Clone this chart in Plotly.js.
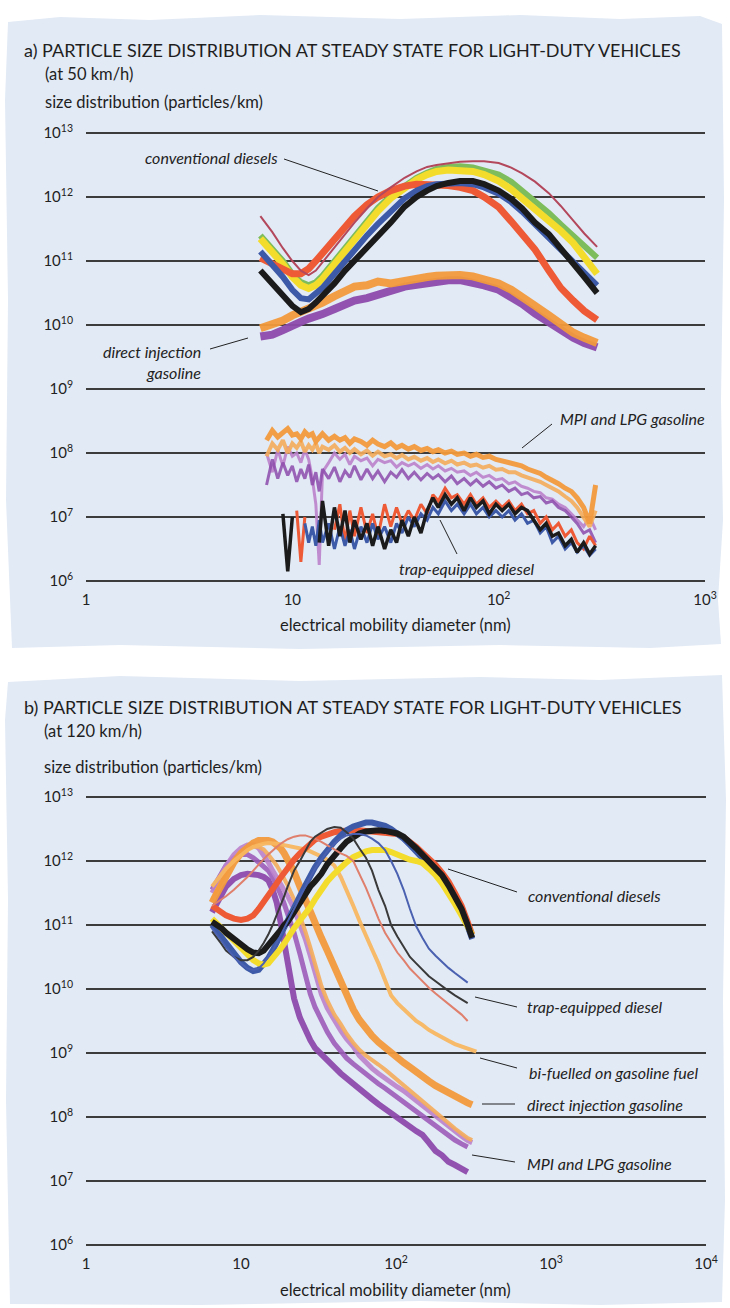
<!DOCTYPE html>
<html>
<head>
<meta charset="utf-8">
<script src="https://cdn.plot.ly/plotly-3.0.1.min.js"></script>
<style>
  html, body { margin:0; padding:0; background:#ffffff; }
  body { width:730px; height:1308px; overflow:hidden; position:relative; }
  .panel { position:absolute; left:0; top:0; width:730px; height:1308px; background:#e2eaf5; }
  #pa { clip-path: polygon(8px 22px, 60px 17px, 150px 20px, 260px 15px, 400px 19px, 520px 15px, 620px 19px, 700px 16px, 722px 24px, 724px 200px, 721px 400px, 723px 520px, 718px 600px, 721px 644px, 650px 648px, 500px 645px, 300px 649px, 120px 645px, 12px 648px, 6px 500px, 8px 300px, 5px 100px); }
  #pb { clip-path: polygon(8px 682px, 120px 676px, 300px 681px, 480px 677px, 600px 680px, 722px 675px, 726px 800px, 723px 1000px, 725px 1200px, 722px 1302px, 600px 1305px, 420px 1301px, 200px 1305px, 10px 1304px, 6px 1100px, 8px 900px, 5px 720px); }
  #chart { position:absolute; left:0; top:0; width:730px; height:1308px; }
</style>
</head>
<body>
<div class="panel" id="pa"></div>
<div class="panel" id="pb"></div>
<div id="chart"></div>
<script>
// ---------- Panel a (50 km/h): diameters in nm, values are log10(particles/km) ----------
const dA = [7,8,9,10,11,12,13,14,16,18,20,23,26,30,35,40,45,50,57,65,75,85,100,115,130,150,175,200,230,260,300];
const aConvBlack   = [10.85,10.65,10.45,10.3,10.2,10.25,10.35,10.45,10.65,10.85,11.0,11.2,11.4,11.6,11.85,12.0,12.1,12.17,12.22,12.25,12.25,12.2,12.1,11.97,11.82,11.6,11.42,11.2,10.98,10.75,10.5];
const aConvBlue    = [11.15,10.95,10.75,10.55,10.42,10.4,10.48,10.58,10.8,11.0,11.17,11.4,11.58,11.78,11.98,12.1,12.17,12.2,12.22,12.22,12.2,12.15,12.05,11.92,11.77,11.57,11.37,11.17,10.97,10.8,10.62];
const aConvRed     = [11.05,10.95,10.85,10.8,10.8,10.88,11.0,11.12,11.35,11.55,11.7,11.88,12.0,12.1,12.17,12.2,12.2,12.2,12.18,12.15,12.1,12.0,11.84,11.62,11.42,11.18,10.85,10.58,10.38,10.22,10.08];
const aConvYellow  = [11.35,11.15,10.95,10.75,10.62,10.57,10.62,10.72,10.95,11.17,11.35,11.58,11.78,11.98,12.15,12.27,12.35,12.4,12.42,12.42,12.4,12.35,12.25,12.12,11.98,11.82,11.65,11.47,11.28,11.05,10.8];
const aConvGreen   = [11.4,11.2,11.0,10.8,10.67,10.62,10.67,10.77,11.0,11.22,11.4,11.63,11.83,12.02,12.18,12.3,12.38,12.44,12.47,12.48,12.46,12.42,12.35,12.24,12.1,11.93,11.75,11.57,11.4,11.22,11.05];
const aConvDarkRed = [11.7,11.45,11.2,11.0,10.85,10.78,10.85,10.98,11.2,11.42,11.6,11.82,12.0,12.15,12.3,12.4,12.47,12.5,12.53,12.55,12.56,12.56,12.53,12.46,12.37,12.24,12.06,11.86,11.63,11.43,11.22];
const aDIOrange    = [9.95,10.0,10.07,10.15,10.2,10.25,10.3,10.35,10.45,10.52,10.6,10.62,10.68,10.65,10.7,10.72,10.75,10.77,10.78,10.78,10.76,10.72,10.65,10.55,10.45,10.3,10.15,10.0,9.88,9.8,9.72];
const aDIPurple    = [9.82,9.85,9.92,10.0,10.05,10.1,10.13,10.17,10.25,10.32,10.38,10.42,10.48,10.55,10.6,10.63,10.66,10.68,10.7,10.7,10.67,10.62,10.55,10.45,10.33,10.18,10.03,9.9,9.8,9.72,9.65];

const dAlow = [7.5,8,8.5,9,9.5,10,10.5,11,11.5,12,12.5,13,13.5,14,15,16,17,18,19,20,21.5,23,24.5,26,28,30,32,34,36.5,39,42,45,48,51,55,59,63,68,73,78,84,90,97,104,112,120,129,138,148,159,170,182,195,210,225,240,258,276,295];
const aMPIOrange  = [8.2,8.35,8.25,8.32,8.38,8.28,8.3,8.22,8.33,8.27,8.3,8.18,8.25,8.3,8.2,8.26,8.2,8.24,8.15,8.22,8.18,8.12,8.2,8.14,8.1,8.16,8.08,8.12,8.06,8.1,8.04,8.07,8.02,8.05,8.0,8.03,7.98,8.0,7.95,7.98,7.93,7.95,7.9,7.88,7.85,7.82,7.8,7.75,7.72,7.68,7.62,7.58,7.52,7.45,7.4,7.3,7.15,6.9,7.5];
const aMPIOrange2 = [7.95,8.15,8.05,8.2,8.0,8.15,8.08,8.18,8.02,8.12,8.05,8.15,8.0,8.1,8.05,8.12,8.02,8.08,8.0,8.06,7.98,8.04,7.96,8.02,7.95,7.98,7.92,7.97,7.9,7.94,7.88,7.92,7.86,7.9,7.84,7.88,7.82,7.85,7.8,7.82,7.77,7.8,7.74,7.75,7.7,7.7,7.65,7.62,7.58,7.55,7.5,7.45,7.4,7.32,7.25,7.15,7.0,6.85,7.1];
const aMPIPurple  = [7.5,7.9,7.6,7.85,7.65,7.8,7.55,7.75,7.6,7.82,7.5,7.7,7.4,7.75,7.6,7.78,7.55,7.72,7.62,7.8,7.58,7.75,7.6,7.72,7.55,7.7,7.62,7.74,7.6,7.7,7.58,7.68,7.6,7.66,7.55,7.64,7.52,7.6,7.5,7.58,7.48,7.55,7.45,7.5,7.4,7.45,7.35,7.38,7.3,7.32,7.22,7.25,7.15,7.1,7.0,6.9,6.75,6.8,6.6];
const aMPIMauve   = [8.0,7.7,8.05,7.8,8.1,7.95,8.0,7.85,8.05,7.9,7.6,7.2,6.25,7.7,7.85,8.0,7.9,7.98,7.82,7.95,7.88,7.92,7.8,7.9,7.85,7.88,7.78,7.85,7.8,7.84,7.76,7.82,7.75,7.8,7.72,7.76,7.7,7.72,7.65,7.7,7.62,7.65,7.58,7.6,7.52,7.55,7.48,7.45,7.4,7.38,7.3,7.28,7.2,7.15,7.05,6.95,6.85,7.0,6.8];
const aTrapBlack  = [null,null,null,7.05,6.15,7.0,null,null,null,null,null,null,6.6,7.25,6.55,7.15,6.7,7.1,6.6,6.95,6.65,6.9,6.55,6.85,6.5,6.8,6.6,6.95,6.7,7.0,6.75,7.1,7.3,7.15,7.35,7.2,7.3,7.1,7.3,7.15,7.25,7.05,7.2,7.1,7.2,7.05,7.15,7.1,6.95,6.8,6.9,6.7,6.75,6.55,6.65,6.45,6.6,6.42,6.55];
const aTrapRed    = [null,null,null,null,null,null,7.1,6.3,7.0,null,null,null,null,null,null,6.8,7.2,6.6,7.1,6.7,7.15,6.75,7.05,6.7,7.2,6.85,7.15,6.9,7.1,6.95,7.2,7.05,7.35,7.25,7.45,7.3,7.35,7.2,7.35,7.2,7.3,7.15,7.25,7.15,7.25,7.1,7.2,7.05,7.1,6.9,7.0,6.8,6.9,6.7,6.8,6.6,6.5,6.7,6.55];
const aTrapBlue   = [null,null,null,null,null,null,null,null,6.9,6.6,6.85,6.55,6.95,6.6,6.9,6.5,6.85,6.55,6.8,6.5,6.85,6.6,6.9,6.65,6.85,6.6,6.9,6.75,7.0,6.85,7.05,6.95,7.15,7.05,7.25,7.1,7.2,7.05,7.2,7.05,7.15,7.0,7.1,7.0,7.1,6.95,7.05,6.9,6.95,6.75,6.85,6.6,6.7,6.5,6.6,6.45,6.55,6.4,6.5];

// ---------- Panel b (120 km/h) ----------
const dB = [6.5,7,7.5,8,9,10,11,12,13,14,15,16,17,18,19,20,22,24,26,28,30,33,36,40,44,48,53,58,64,70,77,85,93,102,112,123,135,148,163,180,198,218,240,265,290,310,330];
const bConvBlack  = [11.05,11.0,10.95,10.88,10.78,10.7,10.62,10.57,10.56,10.6,10.68,10.76,10.84,10.92,11.0,11.05,11.2,11.35,11.5,11.6,11.68,11.8,11.95,12.1,12.2,12.3,12.38,12.43,12.46,12.48,12.48,12.47,12.46,12.43,12.38,12.3,12.2,12.1,12.0,11.9,11.78,11.62,11.45,11.25,11.0,10.8,null];
const bConvBlue   = [11.0,10.9,10.8,10.7,10.55,10.42,10.33,10.28,10.3,10.38,10.48,10.6,10.72,10.84,10.95,11.05,11.25,11.45,11.62,11.77,11.9,12.05,12.18,12.3,12.4,12.48,12.54,12.58,12.6,12.6,12.58,12.55,12.5,12.43,12.35,12.25,12.15,12.05,11.95,11.85,11.72,11.58,11.4,11.2,10.98,10.78,null];
const bConvRed    = [11.3,11.25,11.2,11.15,11.1,11.08,11.1,11.15,11.25,11.35,11.45,11.55,11.65,11.74,11.82,11.9,12.02,12.12,12.2,12.27,12.33,12.38,12.42,12.45,12.47,12.48,12.48,12.48,12.47,12.46,12.45,12.44,12.43,12.42,12.37,12.3,12.22,12.13,12.04,11.94,11.82,11.68,11.5,11.3,11.05,10.85,null];
const bConvYellow = [11.1,11.02,10.95,10.88,10.75,10.63,10.53,10.45,10.4,10.38,10.4,10.47,10.55,10.63,10.71,10.8,10.95,11.07,11.17,11.28,11.4,11.57,11.68,11.8,11.9,11.98,12.06,12.11,12.15,12.17,12.18,12.17,12.14,12.1,12.05,12.02,12.0,11.97,11.88,11.78,11.65,11.5,11.33,11.15,10.98,10.85,null];
const bTrapBlack  = [10.9,10.8,10.7,10.6,10.5,10.45,10.45,10.5,10.6,10.72,10.85,11.0,11.15,11.3,11.45,11.6,11.85,12.0,12.15,12.3,12.38,12.45,12.5,12.53,12.52,12.45,12.35,12.2,12.05,11.85,11.55,11.3,11.0,10.82,10.65,10.5,10.4,10.3,10.2,10.12,10.04,9.97,9.9,9.83,9.78,null,null];
const bTrapBlue   = [10.95,10.85,10.75,10.65,10.5,10.4,10.32,10.3,10.32,10.4,10.5,10.6,10.72,10.84,10.95,11.05,11.25,11.45,11.6,11.75,11.88,12.02,12.15,12.27,12.35,12.4,12.42,12.42,12.4,12.35,12.28,12.17,12.0,11.8,11.55,11.25,10.98,10.8,10.63,10.52,10.42,10.33,10.25,10.17,10.1,null,null];
const bTrapPink   = [11.3,11.35,11.4,11.45,11.55,11.65,11.75,11.85,11.95,12.03,12.1,12.17,12.22,12.27,12.31,12.34,12.38,12.4,12.4,12.38,12.35,12.3,12.25,12.18,12.12,12.08,12.0,11.8,11.58,11.35,11.1,10.88,10.72,10.57,10.45,10.32,10.22,10.12,10.02,9.93,9.85,9.77,9.68,9.6,9.5,null,null];
const bBiFuel     = [11.6,11.7,11.8,11.88,12.0,12.1,12.17,12.22,12.25,12.27,12.28,12.28,12.27,12.26,12.25,12.24,12.22,12.2,12.18,12.15,12.12,12.07,12.02,11.93,11.75,11.55,11.3,11.07,10.85,10.62,10.4,10.12,9.9,9.78,9.68,9.58,9.5,9.44,9.36,9.3,9.24,9.19,9.14,9.1,9.06,9.04,9.02];
const bDIOrange   = [11.35,11.5,11.65,11.78,11.98,12.12,12.22,12.28,12.32,12.33,12.32,12.3,12.26,12.2,12.12,12.03,11.83,11.6,11.38,11.18,11.02,10.8,10.6,10.35,10.1,9.88,9.68,9.52,9.38,9.27,9.17,9.08,9.0,8.93,8.85,8.78,8.7,8.63,8.56,8.49,8.43,8.37,8.31,8.26,8.22,8.19,null];
const bPink       = [11.5,11.65,11.8,11.92,12.1,12.2,12.25,12.25,12.2,12.1,11.98,11.85,11.75,11.65,11.55,11.45,11.25,11.02,10.78,10.52,10.25,9.92,9.7,9.5,9.35,9.22,9.1,8.96,8.85,8.76,8.68,8.6,8.54,8.47,8.41,8.33,8.26,8.18,8.1,8.02,7.94,7.85,7.77,7.7,7.63,7.6,null];
const bOrange2    = [11.4,11.55,11.7,11.82,12.0,12.12,12.2,12.23,12.22,12.18,12.1,12.02,11.93,11.83,11.73,11.62,11.4,11.15,10.9,10.65,10.4,10.05,9.82,9.6,9.45,9.3,9.16,9.05,8.96,8.9,8.82,8.74,8.66,8.58,8.5,8.42,8.33,8.25,8.15,8.07,7.98,7.9,7.82,7.74,7.67,7.64,null];
const bPurpleMid  = [11.55,11.7,11.83,11.93,12.05,12.1,12.1,12.05,11.98,11.92,11.85,11.75,11.62,11.48,11.33,11.18,10.88,10.55,10.2,9.92,9.72,9.5,9.33,9.15,9.02,8.92,8.83,8.75,8.67,8.6,8.52,8.45,8.38,8.3,8.22,8.15,8.07,8.0,7.92,7.85,7.78,7.7,7.64,7.58,7.53,null,null];
const bPurpleDark = [11.2,11.35,11.5,11.6,11.72,11.78,11.8,11.8,11.78,11.75,11.7,11.55,11.35,11.05,10.7,10.35,9.85,9.55,9.35,9.2,9.08,8.97,8.88,8.78,8.68,8.6,8.52,8.44,8.36,8.28,8.2,8.12,8.05,7.98,7.92,7.85,7.78,7.72,7.6,7.47,7.4,7.3,7.25,7.18,7.14,null,null];

// tick labels
const yTickExp = [6,7,8,9,10,11,12,13];
const xTickA = ['1','10','10<sup>2</sup>','10<sup>3</sup>'];
const xTickB = ['1','10','10<sup>2</sup>','10<sup>3</sup>','10<sup>4</sup>'];

// ---------- helpers ----------
const W = 730, H = 1308;
const px = x => x / W;
const py = y => 1 - y / H;
const pow = arr => arr.map(v => v === null ? null : Math.pow(10, v));

function tr(x, yexp, color, width, axis, opacity) {
  return {
    x: x, y: pow(yexp), type: 'scatter', mode: 'lines',
    line: { color: color, width: width, shape: 'linear' },
    opacity: opacity === undefined ? 1 : opacity,
    connectgaps: false, hoverinfo: 'skip',
    xaxis: axis === 2 ? 'x2' : 'x', yaxis: axis === 2 ? 'y2' : 'y'
  };
}

const C = {
  black: '#1b1b1b', blue: '#3d5aa8', red: '#ee5a35', yellow: '#f4dc2c', green: '#7dbd5c',
  darkred: '#b3485c', orange: '#f29a3c', orange2: '#f5ac5a', purple: '#8c4bab', mauve: '#bc82cc',
  pink: '#df7f6c', light: '#f7b760'
};

const traces = [
  // panel a, upper group
  tr(dA, aDIPurple, C.purple, 8, 1, 0.95),
  tr(dA, aDIOrange, C.orange, 8, 1, 0.95),
  tr(dA, aConvGreen, C.green, 6, 1),
  tr(dA, aConvYellow, C.yellow, 7, 1),
  tr(dA, aConvRed, C.red, 7, 1),
  tr(dA, aConvBlue, C.blue, 6, 1),
  tr(dA, aConvBlack, C.black, 6, 1),
  tr(dA, aConvDarkRed, C.darkred, 2, 1),
  // panel a, lower group
  tr(dAlow, aMPIMauve, C.mauve, 3, 1, 0.9),
  tr(dAlow, aMPIPurple, C.purple, 3, 1, 0.85),
  tr(dAlow, aMPIOrange2, C.orange2, 4, 1, 0.9),
  tr(dAlow, aMPIOrange, C.orange, 5, 1, 0.95),
  tr(dAlow, aTrapRed, C.red, 3, 1),
  tr(dAlow, aTrapBlue, C.blue, 3, 1),
  tr(dAlow, aTrapBlack, C.black, 3.5, 1),
  // panel b
  tr(dB, bPurpleDark, C.purple, 6, 2, 0.95),
  tr(dB, bPurpleMid, '#9c5cba', 5, 2, 0.9),
  tr(dB, bPink, C.mauve, 5, 2, 0.9),
  tr(dB, bOrange2, C.orange2, 4, 2, 0.9),
  tr(dB, bDIOrange, C.orange, 7, 2, 0.95),
  tr(dB, bBiFuel, C.light, 4, 2, 0.95),
  tr(dB, bConvRed, C.red, 6, 2),
  tr(dB, bConvBlue, C.blue, 6, 2),
  tr(dB, bConvYellow, C.yellow, 6, 2),
  tr(dB, bConvBlack, C.black, 6, 2),
  tr(dB, bTrapPink, C.pink, 2, 2),
  tr(dB, bTrapBlack, '#3a3a3a', 2, 2),
  tr(dB, bTrapBlue, '#4a60b0', 2, 2)
];

const yTickVals = yTickExp.map(e => Math.pow(10, e));
const yTickText = yTickExp.map(e => '10<sup>' + e + '</sup>');

const tickFont = { family: 'Lato, sans-serif', size: 15, color: '#222' };
const PAD = 0.05; // decades of padding above/below the 10^6..10^13 span so edge grid lines are drawn
function yaxisDef(topPx, anchor) {
  // 64 px per decade, 10^13 at topPx
  const top = topPx - PAD * 64, bottom = topPx + 448 + PAD * 64;
  return {
    type: 'log', range: [6 - PAD, 13 + PAD], domain: [py(bottom), py(top)], anchor: anchor,
    tickvals: yTickVals, ticktext: yTickText, tickfont: tickFont,
    showgrid: true, gridcolor: '#3c3c3c', gridwidth: 1.6, zeroline: false, showline: false,
    ticks: 'outside', ticklen: 9, tickcolor: 'rgba(0,0,0,0)', fixedrange: true
  };
}
function xaxisDef(range, left, right, vals, text, anchor) {
  return {
    type: 'log', range: range, domain: [px(left), px(right)], anchor: anchor,
    tickvals: vals, ticktext: text, tickfont: tickFont,
    showgrid: false, zeroline: false, showline: false,
    ticks: 'outside', ticklen: 2, tickcolor: 'rgba(0,0,0,0)', fixedrange: true
  };
}

const titleFont = { family: 'Lato, sans-serif', size: 16.5, color: '#1e1e1e' };
const capsFont = { family: 'Lato, sans-serif', size: 18, color: '#1e1e1e' };
const itFont = { family: 'Lato, sans-serif', size: 16, color: '#222', style: 'italic' };
function ann(text, x, y, xanchor, font) {
  return { text: text, x: px(x), y: py(y), xref: 'paper', yref: 'paper',
           xanchor: xanchor, yanchor: 'middle', showarrow: false, font: font };
}
function lead(x0, y0, x1, y1) {
  return { type: 'line', xref: 'paper', yref: 'paper', x0: px(x0), y0: py(y0), x1: px(x1), y1: py(y1),
           line: { color: '#222', width: 1 } };
}

const layout = {
  width: W, height: H, margin: { l: 0, r: 0, t: 0, b: 0 },
  paper_bgcolor: 'rgba(0,0,0,0)', plot_bgcolor: 'rgba(0,0,0,0)',
  showlegend: false, font: { family: 'Lato, sans-serif', color: '#222' },
  xaxis: xaxisDef([0, 3], 86, 705, [1, 10, 100, 1000], xTickA, 'y'),
  yaxis: yaxisDef(133, 'x'),
  xaxis2: xaxisDef([0, 4], 86, 706, [1, 10, 100, 1000, 10000], xTickB, 'y2'),
  yaxis2: yaxisDef(797, 'x2'),
  annotations: [
    ann('a) PARTICLE SIZE DISTRIBUTION AT STEADY STATE FOR LIGHT-DUTY VEHICLES', 22, 50, 'left', capsFont),
    ann('(at 50 km/h)', 43, 74, 'left', titleFont),
    ann('size distribution (particles/km)', 43, 102, 'left', titleFont),
    ann('electrical mobility diameter (nm)', 395, 625, 'center', titleFont),
    ann('conventional diesels', 280, 157, 'right', itFont),
    ann('direct injection', 203, 352, 'right', itFont),
    ann('gasoline', 203, 372, 'right', itFont),
    ann('MPI and LPG gasoline', 558, 418, 'left', itFont),
    ann('trap-equipped diesel', 397, 568, 'left', itFont),

    ann('b) PARTICLE SIZE DISTRIBUTION AT STEADY STATE FOR LIGHT-DUTY VEHICLES', 22, 707, 'left', capsFont),
    ann('(at 120 km/h)', 42, 731, 'left', titleFont),
    ann('size distribution (particles/km)', 42, 767, 'left', titleFont),
    ann('electrical mobility diameter (nm)', 395, 1290, 'center', titleFont),
    ann('conventional diesels', 526, 895, 'left', itFont),
    ann('trap-equipped diesel', 525, 1007, 'left', itFont),
    ann('bi-fuelled on gasoline fuel', 527, 1072, 'left', itFont),
    ann('direct injection gasoline', 525, 1104, 'left', itFont),
    ann('MPI and LPG gasoline', 525, 1163, 'left', itFont)
  ],
  shapes: [
    lead(284, 159, 378, 191),
    lead(210, 349, 248, 338),
    lead(552, 424, 522, 448),
    lead(457, 554, 440, 520),
    lead(448, 869, 517, 892),
    lead(475, 997, 517, 1007),
    lead(480, 1058, 517, 1068),
    lead(482, 1104, 515, 1104),
    lead(472, 1155, 515, 1162)
  ]
};

Plotly.newPlot('chart', traces, layout, { staticPlot: true, displayModeBar: false });
</script>
</body>
</html>
